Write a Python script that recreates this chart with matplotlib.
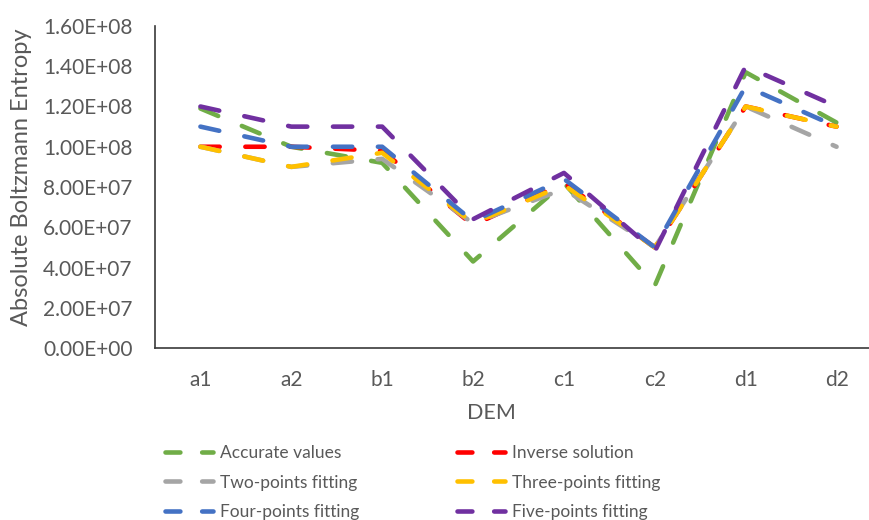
import matplotlib
matplotlib.use("Agg")
import matplotlib.pyplot as plt
from matplotlib.lines import Line2D
from matplotlib.ticker import FuncFormatter

# Data
dem = ["a1", "a2", "b1", "b2", "c1", "c2", "d1", "d2"]
accurate_values = [1.19e8, 1.00e8, 0.92e8, 0.43e8, 0.82e8, 0.31e8, 1.37e8, 1.12e8]
inverse_solution = [1.00e8, 1.00e8, 0.98e8, 0.61e8, 0.82e8, 0.50e8, 1.20e8, 1.10e8]
two_points = [1.00e8, 0.90e8, 0.94e8, 0.62e8, 0.79e8, 0.50e8, 1.20e8, 1.00e8]
three_points = [1.00e8, 0.90e8, 0.97e8, 0.62e8, 0.81e8, 0.50e8, 1.20e8, 1.10e8]
four_points = [1.10e8, 1.00e8, 1.00e8, 0.63e8, 0.84e8, 0.50e8, 1.30e8, 1.10e8]
five_points = [1.20e8, 1.10e8, 1.10e8, 0.64e8, 0.87e8, 0.48e8, 1.40e8, 1.20e8]

series = [
    ("Accurate values", accurate_values, "#70AD47"),
    ("Inverse solution", inverse_solution, "#FF0000"),
    ("Two-points fitting", two_points, "#A5A5A5"),
    ("Three-points fitting", three_points, "#FFC000"),
    ("Four-points fitting", four_points, "#4472C4"),
    ("Five-points fitting", five_points, "#7030A0"),
]

plt.rcParams["font.family"] = ["Lato", "DejaVu Sans"]
text_color = "#595959"

fig = plt.figure(figsize=(8.69, 5.20), dpi=100)
ax = fig.add_axes([155 / 869, 172 / 520, 727 / 869, 322 / 520])

x = list(range(len(dem)))
lw = 3.3
for name, vals, color in series:
    ax.plot(x, vals, color=color, lw=lw, dashes=(4.2, 5.6),
            dash_capstyle="round", solid_capstyle="round")

ax.set_xlim(-0.5, len(dem) - 0.5)
ax.set_ylim(0, 1.6e8)
ax.set_yticks([i * 2e7 for i in range(9)])
ax.yaxis.set_major_formatter(FuncFormatter(lambda v, p: f"{v:.2E}"))
ax.set_xticks(x)
ax.set_xticklabels(dem)

for side in ("top", "right"):
    ax.spines[side].set_visible(False)
for side in ("left", "bottom"):
    ax.spines[side].set_color("#3a3a3a")
    ax.spines[side].set_linewidth(1.2)

ax.tick_params(axis="y", length=0, pad=16, labelsize=15, labelcolor=text_color)
ax.tick_params(axis="x", length=0, pad=16, labelsize=15, labelcolor=text_color)

fig.text(22 / 869, 1 - 177 / 520, "Absolute Boltzmann Entropy", rotation=90,
         ha="center", va="center", fontsize=17, color=text_color)
fig.text(491 / 869, 1 - 413 / 520, "DEM", ha="center", va="center",
         fontsize=15.5, color=text_color)


def handle(color):
    return Line2D([], [], color=color, lw=lw, dashes=(3.25, 4.75),
                  dash_capstyle="round")


left_col = [series[0], series[2], series[4]]
right_col = [series[1], series[3], series[5]]
for col, x0 in ((left_col, 165), (right_col, 457)):
    leg = fig.legend([handle(c) for _, _, c in col], [n for n, _, _ in col],
                     loc="upper left", bbox_to_anchor=(x0 / 869, 1 - 445 / 520),
                     frameon=False, fontsize=12.5, handlelength=2.76,
                     handletextpad=0.4, labelspacing=0.78, borderpad=0,
                     borderaxespad=0)
    for t in leg.get_texts():
        t.set_color(text_color)

fig.savefig("out.png", dpi=100)
